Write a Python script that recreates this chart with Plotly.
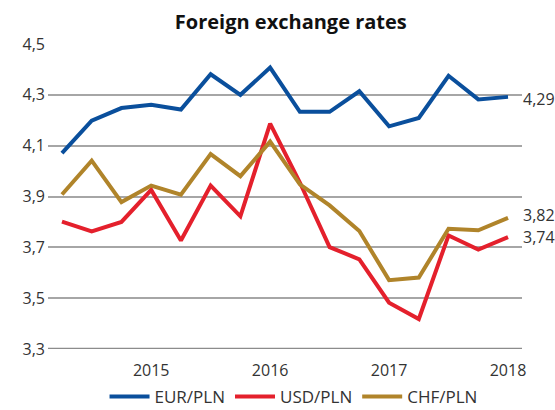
import plotly.graph_objects as go

quarters = ["2014Q2", "2014Q3", "2014Q4", "2015", "2015Q2", "2015Q3", "2015Q4", "2016",
            "2016Q2", "2016Q3", "2016Q4", "2017", "2017Q2", "2017Q3", "2017Q4", "2018"]
eur = [4.071, 4.198, 4.248, 4.261, 4.242, 4.381, 4.300, 4.407,
       4.233, 4.233, 4.314, 4.176, 4.209, 4.375, 4.282, 4.292]
usd = [3.801, 3.763, 3.800, 3.926, 3.727, 3.943, 3.822, 4.187,
       3.955, 3.701, 3.653, 3.482, 3.418, 3.747, 3.691, 3.740]
chf = [3.908, 4.041, 3.878, 3.943, 3.907, 4.067, 3.980, 4.116,
       3.948, 3.865, 3.764, 3.571, 3.581, 3.773, 3.767, 3.816]
year_ticks = ["2015", "2016", "2017", "2018"]
y_ticks = [3.3, 3.5, 3.7, 3.9, 4.1, 4.3, 4.5]
end_labels = ["4,29", "3,82", "3,74"]

colors = {"EUR/PLN": "#0a4f9c", "USD/PLN": "#e4202c", "CHF/PLN": "#b0842a"}
font = "Open Sans"

fig = go.Figure()
for name, vals in [("EUR/PLN", eur), ("USD/PLN", usd), ("CHF/PLN", chf)]:
    fig.add_trace(go.Scatter(x=quarters, y=vals, mode="lines", name=name,
                             line=dict(color=colors[name], width=4)))

last_idx = len(quarters) - 1
for lab, vals, ys in zip(end_labels, [eur, chf, usd], [-2, 3, 0]):
    fig.add_annotation(x=last_idx, y=vals[-1], text=lab, showarrow=False,
                       xanchor="left", yanchor="middle", xshift=13, yshift=ys,
                       font=dict(family=font, size=16, color="#333333"))

fig.update_layout(
    width=555, height=410,
    margin=dict(l=48, r=33, t=44, b=61, autoexpand=False),
    paper_bgcolor="white", plot_bgcolor="white",
    separators=", ",
    title=dict(text="<b>Foreign exchange rates</b>", x=0.524, xanchor="center",
               y=0.947, yanchor="middle",
               font=dict(family=font, size=20, color="#111111")),
    showlegend=True,
    legend=dict(orientation="h", x=0.518, xanchor="center", y=-0.098, yanchor="top",
                font=dict(family=font, size=17, color="#333333"),
                itemwidth=40, tracegroupgap=0),
    xaxis=dict(type="category", range=[-0.47, 15.47], tickmode="array",
               tickvals=year_ticks, ticktext=year_ticks, showgrid=False,
               showline=False, zeroline=False, ticks="", automargin=False,
               ticklabelstandoff=10,
               tickfont=dict(family=font, size=16, color="#333333")),
    yaxis=dict(range=[3.3, 4.5], tickmode="array", tickvals=y_ticks,
               tickformat=".1f", showgrid=True, gridcolor="#a6a6a6", gridwidth=1.5,
               zeroline=False, showline=False, ticks="", ticklabelstandoff=2,
               automargin=False,
               tickfont=dict(family=font, size=16, color="#333333")),
)
fig.add_shape(type="line", xref="paper", yref="y", x0=0, x1=1, y0=3.3, y1=3.3,
              line=dict(color="#8c8c8c", width=2.5))

fig.write_html("out.html", config={"displayModeBar": False},
               post_script="document.body.style.margin='0';document.body.style.overflow='hidden';")
